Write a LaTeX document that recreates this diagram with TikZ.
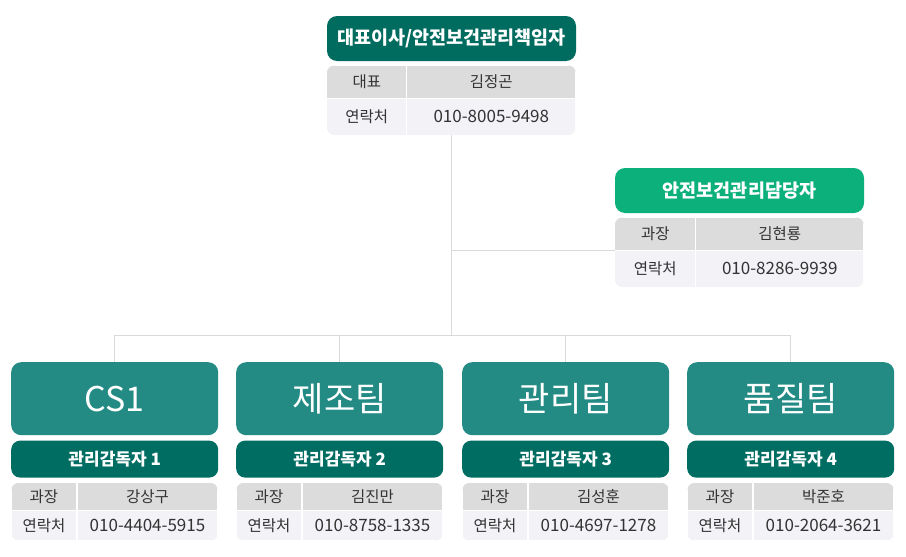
\documentclass[tikz,border=0pt]{standalone}
\usepackage{fontspec}
\setmainfont{Noto Sans CJK KR}
\usetikzlibrary{calc}
\usetikzlibrary{positioning}

\definecolor{ceoteal}{HTML}{006B5F}
\definecolor{mgrgreen}{HTML}{0BB07B}
\definecolor{teamteal}{HTML}{238B84}
\definecolor{supteal}{HTML}{006D63}
\definecolor{headgray}{HTML}{DCDCDC}
\definecolor{rowgray}{HTML}{F2F2F7}
\definecolor{textgray}{HTML}{333333}
\definecolor{linkgray}{HTML}{D9D9D9}

\tikzset{
    titlebox/.style={text=white, rounded corners=10pt, minimum width=249, minimum height=45, inner sep=0pt, font=\fontsize{18.5}{21}\selectfont\bfseries},
    teambox/.style={fill=teamteal, text=white, rounded corners=10pt, minimum width=207, minimum height=73, inner sep=0pt, font=\fontsize{34}{38}\selectfont},
    supbox/.style={fill=supteal, text=white, rounded corners=9pt, minimum width=207, minimum height=37, inner sep=0pt, font=\fontsize{17}{20}\selectfont\bfseries},
    headcell/.style={fill=headgray, draw=white, line width=1.2pt, outer sep=0pt, inner sep=0pt, text=textgray, font=\fontsize{15.5}{18}\selectfont},
    bodycell/.style={headcell, fill=rowgray},
    link/.style={draw=linkgray, line width=1pt},
}

% #1 corner/prefix, #2 #3 column widths, #4 role, #5 person, #6 phone, #7 #8 row heights
\newcommand{\infotable}[8]{%
    \begin{scope}
        \clip[rounded corners=8pt] (#1) rectangle ++(#2+#3,#7+#8);
        \node[headcell, minimum width=#2, minimum height=#7, anchor=north west] (#1 role) at (#1) {#4};
        \node[headcell, minimum width=#3, minimum height=#7, right=0pt of #1 role] (#1 name) {#5};
        \node[bodycell, minimum width=#2, minimum height=#8, below=0pt of #1 role] (#1 tel label) {연락처};
        \node[bodycell, minimum width=#3, minimum height=#8, below=0pt of #1 name] (#1 tel) {\fontsize{17}{19}\selectfont #6};
    \end{scope}}

\begin{document}
\begin{tikzpicture}[x=1pt, y=-1pt]
    \useasboundingbox (0,0) rectangle (906,557);

    % top: CEO
    \node[titlebox, fill=ceoteal] (ceo) at (451.5,38.5) {대표이사/안전보건관리책임자};
    \coordinate[below=4pt of ceo.south west] (ceotab);
    \infotable{ceotab}{80}{169}{대표}{김정곤}{010-8005-9498}{33}{37}
    \coordinate (ceo bottom) at ($(ceotab tel label.south west)!0.5!(ceotab tel.south east)$);

    % right: manager
    \node[titlebox, fill=mgrgreen] (mgr) at (739.5,190.5) {안전보건관리담당자};
    \coordinate[below=4pt of mgr.south west] (mgrtab);
    \infotable{mgrtab}{81}{168}{과장}{김현룡}{010-8286-9939}{33}{37}

    % teams
    \foreach \i/\x/\team/\who/\phone in {
        1/11/CS1/강상구/010-4404-5915,
        2/236/제조팀/김진만/010-8758-1335,
        3/462/관리팀/김성훈/010-4697-1278,
        4/687/품질팀/박준호/010-2064-3621} {
        \node[teambox, anchor=north west] (team\i) at (\x,362) {\team};
        \node[supbox, below=5pt of team\i] (sup\i) {관리감독자 \i};
        \coordinate[below=5pt of sup\i.south west] (tab\i);
        \infotable{tab\i}{66}{141}{과장}{\who}{\phone}{28}{30}
    }

    % connectors
    \coordinate[below=200pt of ceo bottom] (bus);
    \draw[link] (ceo bottom) -- (bus);
    \draw[link] (mgrtab tel label.north west) -- (mgrtab tel label.north west -| ceo bottom);
    \draw[link] (team1.north |- bus) -- (team4.north |- bus);
    \foreach \i in {1,...,4}
        \draw[link] (team\i.north |- bus) -- (team\i.north);
\end{tikzpicture}
\end{document}
